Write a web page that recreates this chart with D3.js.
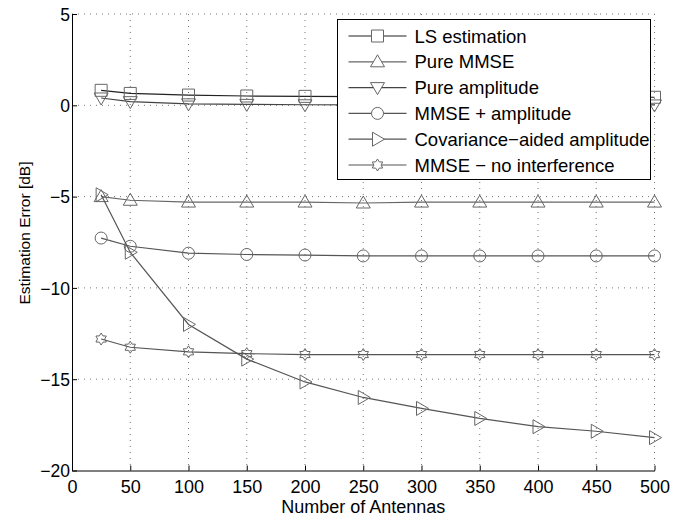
<!DOCTYPE html>
<html>
<head>
  <script src="https://d3js.org/d3.v7.min.js"></script>
  <style>
    body { margin: 0; background: #fff; }
    text { font-family: "Liberation Sans", Arial, sans-serif; }
  </style>
</head>
<body>
  <div id="chart"></div>
  <script type="text/javascript">
    var antennas = [25, 50, 100, 150, 200, 250, 300, 350, 400, 450, 500];
    var lsEstimation = [0.82, 0.65, 0.56, 0.51, 0.49, 0.47, 0.46, 0.45, 0.45, 0.44, 0.44];
    var pureMmse = [-5.0, -5.2, -5.3, -5.3, -5.3, -5.35, -5.3, -5.3, -5.3, -5.3, -5.3];
    var pureAmplitude = [0.4, 0.2, 0.08, 0.05, 0.03, 0.02, 0.02, 0.02, 0.02, 0.02, 0.02];
    var mmseAmplitude = [-7.27, -7.72, -8.1, -8.17, -8.2, -8.25, -8.25, -8.25, -8.25, -8.25, -8.25];
    var covAided = [-4.9, -8.05, -12.0, -13.9, -15.15, -16.0, -16.6, -17.15, -17.6, -17.85, -18.2];
    var mmseNoInterf = [-12.8, -13.25, -13.5, -13.6, -13.65, -13.65, -13.65, -13.65, -13.65, -13.65, -13.65];
    var xTicks = [0, 50, 100, 150, 200, 250, 300, 350, 400, 450, 500];
    var yTicks = [5, 0, -5, -10, -15, -20];

    var series = [
      { name: "LS estimation", values: lsEstimation, marker: "square", line: "#222" },
      { name: "Pure MMSE", values: pureMmse, marker: "up", line: "#666" },
      { name: "Pure amplitude", values: pureAmplitude, marker: "down", line: "#444" },
      { name: "MMSE + amplitude", values: mmseAmplitude, marker: "circle", line: "#555" },
      { name: "Covariance\u2212aided amplitude", values: covAided, marker: "right", line: "#555" },
      { name: "MMSE \u2212 no interference", values: mmseNoInterf, marker: "star", line: "#555" }
    ];

    var W = 685, H = 517;
    var margin = { top: 14, right: 30.5, bottom: 46.5, left: 72 };
    var width = W - margin.left - margin.right;
    var height = H - margin.top - margin.bottom;

    var svg = d3.select("#chart").append("svg")
      .attr("width", W).attr("height", H);
    var g = svg.append("g")
      .attr("transform", "translate(" + margin.left + "," + margin.top + ")");

    var x = d3.scaleLinear().domain([0, 500]).range([0, width]);
    var y = d3.scaleLinear().domain([-20, 5]).range([height, 0]);

    // dotted grid
    g.selectAll(".gx").data(xTicks.slice(1)).enter().append("line")
      .attr("x1", function (d) { return x(d); }).attr("x2", function (d) { return x(d); })
      .attr("y1", 0).attr("y2", height)
      .attr("stroke", "#777").attr("stroke-width", 1).attr("stroke-dasharray", "1,5");
    g.selectAll(".gy").data(yTicks.slice(0, -1)).enter().append("line")
      .attr("x1", 0).attr("x2", width)
      .attr("y1", function (d) { return y(d); }).attr("y2", function (d) { return y(d); })
      .attr("stroke", "#777").attr("stroke-width", 1).attr("stroke-dasharray", "1,5");

    // axes
    var xAxis = g.append("g").attr("transform", "translate(0," + height + ")")
      .call(d3.axisBottom(x).tickValues(xTicks).tickSizeInner(-5).tickSizeOuter(0).tickPadding(10));
    var yAxis = g.append("g")
      .call(d3.axisLeft(y).tickValues(yTicks).tickSizeInner(-5).tickSizeOuter(0).tickPadding(2)
        .tickFormat(function (d) { return d < 0 ? "\u2212" + Math.abs(d) : d; }));
    [xAxis, yAxis].forEach(function (a) {
      a.selectAll("text").attr("font-size", 18).attr("fill", "#000")
        .style("font-family", "'Liberation Sans', Arial, sans-serif");
      a.selectAll("line, path").attr("stroke", "#000");
    });
    yAxis.selectAll("text").attr("font-size", 17.5).attr("dy", "0.36em");

    svg.append("text")
      .attr("x", margin.left + width / 2).attr("y", 513)
      .attr("text-anchor", "middle").attr("font-size", 18).text("Number of Antennas");
    svg.append("text")
      .attr("transform", "translate(30,233) rotate(-90)")
      .attr("text-anchor", "middle").attr("font-size", 15.5).text("Estimation Error [dB]");

    function markerPath(type) {
      if (type === "square") return "M-6,-6H6V6H-6Z";
      if (type === "up") return "M0,-7L7,5L-7,5Z";
      if (type === "down") return "M0,7L7,-5L-7,-5Z";
      if (type === "right") return "M7,0L-5,-7L-5,7Z";
      if (type === "circle") return "M6,0A6,6 0 1,1 -6,0A6,6 0 1,1 6,0Z";
      if (type === "star") {
        var p = "";
        for (var i = 0; i < 12; i++) {
          var r = i % 2 === 0 ? 6 : 3.6;
          var a = -Math.PI / 2 + i * Math.PI / 6;
          p += (i === 0 ? "M" : "L") + (r * Math.cos(a)).toFixed(2) + "," + (r * Math.sin(a)).toFixed(2);
        }
        return p + "Z";
      }
      return "";
    }

    var line = d3.line()
      .x(function (d, i) { return x(antennas[i]); })
      .y(function (d) { return y(d); });

    series.forEach(function (s) {
      g.append("path").datum(s.values)
        .attr("d", line).attr("fill", "none")
        .attr("stroke", s.line).attr("stroke-width", 1.2);
      g.selectAll(null).data(s.values).enter().append("path")
        .attr("d", markerPath(s.marker))
        .attr("transform", function (d, i) { return "translate(" + x(antennas[i]) + "," + y(d) + ")"; })
        .attr("fill", "none").attr("stroke", "#666").attr("stroke-width", 1);
    });

    // legend
    var lg = svg.append("g").attr("transform", "translate(337.5,19.5)");
    lg.append("rect").attr("width", 313).attr("height", 160)
      .attr("fill", "#fff").attr("stroke", "#000").attr("stroke-width", 1);
    var items = lg.selectAll(".item").data(series).enter().append("g")
      .attr("transform", function (d, i) { return "translate(0," + (16.5 + i * 25.8) + ")"; });
    items.append("line").attr("x1", 11).attr("x2", 69)
      .attr("stroke", function (d) { return d.line; }).attr("stroke-width", 1.2);
    items.append("path").attr("transform", "translate(40,0)")
      .attr("d", function (d) { return markerPath(d.marker); })
      .attr("fill", "#fff").attr("stroke", "#666");
    items.append("text").attr("x", 77).attr("dy", "0.36em")
      .attr("font-size", 18.5).text(function (d) { return d.name; });
  </script>
</body>
</html>
